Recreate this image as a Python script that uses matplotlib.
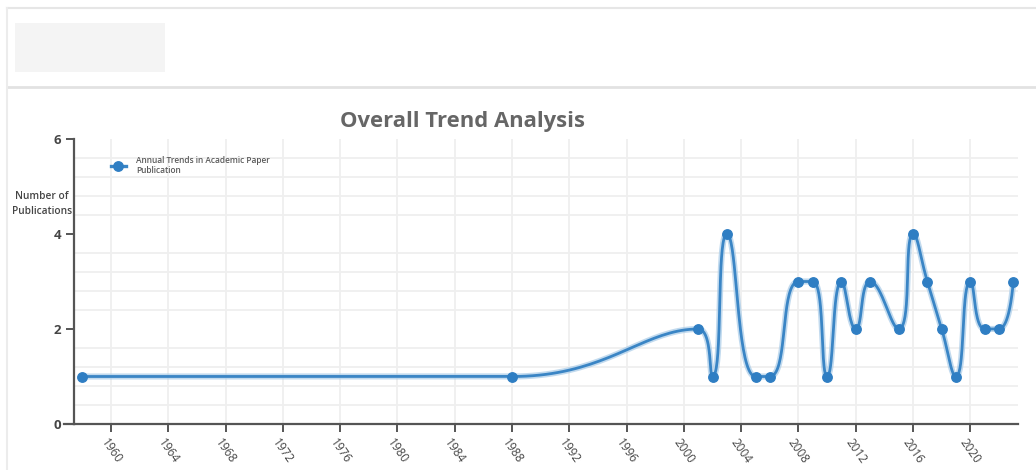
import numpy as np
import matplotlib
matplotlib.use("Agg")
import matplotlib.pyplot as plt
from matplotlib.patches import Rectangle
from matplotlib.lines import Line2D

# ---- data ----
years = [1958, 1988, 2001, 2002, 2003, 2005, 2006, 2008, 2009, 2010, 2011,
         2012, 2013, 2015, 2016, 2017, 2018, 2019, 2020, 2021, 2022, 2023]
counts = [1, 1, 2, 1, 4, 1, 1, 3, 3, 1, 3,
          2, 3, 2, 4, 3, 2, 1, 3, 2, 2, 3]
tick_years = list(range(1960, 2021, 4))
y_ticks = [0, 2, 4, 6]

title_text = "Overall Trend Analysis"
series_name = "Annual Trends in Academic Paper\nPublication"
y_title = "Number of\nPublications"

LINE_BLUE = "#3a85c5"
DOT_BLUE = "#2f7ec3"
GLOW_BLUE = "#a8cbe8"
GRID = "#efefef"
AXIS = "#555555"
TEXT = "#454545"

W, H = 1036, 470
fig = plt.figure(figsize=(W / 100, H / 100), dpi=100)
fig.patch.set_facecolor("white")


def fx(px):
    return px / W


def fy(py):
    return 1 - py / H


# ---- card frame / header ----
fig.add_artist(Line2D([fx(7), 1], [fy(8), fy(8)], color="#e6e6e6", lw=1.5))
fig.add_artist(Line2D([fx(7), 1], [fy(87), fy(87)], color="#e2e2e2", lw=2))
fig.add_artist(Line2D([fx(7), fx(7)], [fy(8), 0], color="#ececec", lw=1.5))
fig.add_artist(Rectangle((fx(15), fy(72)), fx(165) - fx(15), fy(23) - fy(72),
                         transform=fig.transFigure, facecolor="#f4f4f4",
                         edgecolor="none"))

# ---- axes ----
ax = fig.add_axes([fx(74), fy(424), fx(1018) - fx(74), fy(139) - fy(424)])
ax.set_xlim(1957.41, 2023.33)
ax.set_ylim(0, 6)

ax.set_xticks(tick_years)
ax.set_xticklabels([str(y) for y in tick_years], rotation=-55, ha="center",
                   va="top", fontsize=8.5, color=TEXT, family="Open Sans")
ax.set_yticks(y_ticks)
ax.set_yticklabels([str(v) for v in y_ticks], fontsize=9.5, fontweight="bold",
                   color=TEXT, family="Open Sans")
ax.set_yticks(np.arange(0, 6.01, 0.4), minor=True)
ax.tick_params(axis="y", which="minor", length=0)
ax.tick_params(axis="both", which="major", length=6, width=1.4, color=AXIS,
               direction="out")
ax.tick_params(axis="x", pad=3)
ax.tick_params(axis="y", pad=3)

ax.grid(True, axis="x", which="major", color=GRID, lw=1.3)
ax.grid(True, axis="y", which="minor", color=GRID, lw=1.3)
ax.set_axisbelow(True)

for s in ("top", "right"):
    ax.spines[s].set_visible(False)
for s in ("left", "bottom"):
    ax.spines[s].set_color(AXIS)
    ax.spines[s].set_linewidth(1.6)
ax.add_line(Line2D([-10 / 944, 0], [0, 0], transform=ax.transAxes,
                   color=AXIS, lw=1.6, clip_on=False))


# ---- smoothed line (cubic bezier through points, extremes clamped) ----
def smooth_curve(px, py, smooth=0.5, steps=40):
    n = len(px)
    out_x, out_y = [px[0]], [py[0]]
    c0x, c0y = px[0], py[0]
    for i in range(1, n):
        x, y = px[i], py[i]
        x0, y0 = px[i - 1], py[i - 1]
        if i == n - 1:
            c1x, c1y = x, y
            ncx, ncy = x, y
        else:
            nx, ny = px[i + 1], py[i + 1]
            vx, vy = nx - x0, ny - y0
            lp = np.hypot(x - x0, y - y0)
            ln = np.hypot(nx - x, ny - y)
            r = ln / (ln + lp)
            ncx = x + vx * smooth * r
            ncy = y + vy * smooth * r
            ncx = max(min(ncx, max(nx, x)), min(nx, x))
            ncy = max(min(ncy, max(ny, y)), min(ny, y))
            vx, vy = ncx - x, ncy - y
            c1x = x - vx * lp / ln
            c1y = y - vy * lp / ln
            c1x = max(min(c1x, max(x0, x)), min(x0, x))
            c1y = max(min(c1y, max(y0, y)), min(y0, y))
            vx, vy = x - c1x, y - c1y
            ncx = x + vx * ln / lp
            ncy = y + vy * ln / lp
        t = np.linspace(0, 1, steps)[1:]
        a, b, c, d = (1 - t) ** 3, 3 * (1 - t) ** 2 * t, 3 * (1 - t) * t ** 2, t ** 3
        out_x.extend(a * x0 + b * c0x + c * c1x + d * x)
        out_y.extend(a * y0 + b * c0y + c * c1y + d * y)
        c0x, c0y = ncx, ncy
    return np.array(out_x), np.array(out_y)


pix = ax.transData.transform(np.column_stack([years, counts]))
sx, sy = smooth_curve(pix[:, 0], pix[:, 1])
curve = ax.transData.inverted().transform(np.column_stack([sx, sy]))

ax.plot(curve[:, 0], curve[:, 1], color=GLOW_BLUE, lw=4.4, alpha=0.7,
        solid_capstyle="round", zorder=3)
ax.plot(curve[:, 0], curve[:, 1], color=LINE_BLUE, lw=2.0,
        solid_capstyle="round", zorder=4)
ax.plot(years, counts, linestyle="none", marker="o", markersize=6.8,
        color=DOT_BLUE, markeredgecolor=DOT_BLUE, zorder=5, clip_on=False)

# ---- legend ----
handle = Line2D([], [], color=LINE_BLUE, lw=2.4, marker="o", markersize=6.8,
                markerfacecolor=DOT_BLUE, markeredgecolor=DOT_BLUE)
leg = ax.legend([handle], [series_name], loc="upper left",
                bbox_to_anchor=(fx(111), fy(156)), bbox_transform=fig.transFigure,
                frameon=False, handlelength=1.75, handletextpad=1.3,
                borderpad=0, borderaxespad=0,
                prop={"family": "Open Sans", "size": 6.0, "weight": "semibold"})
for t in leg.get_texts():
    t.set_color("#5a5a5a")

# ---- titles ----
fig.text(fx(462), fy(121), title_text, ha="center", va="center",
         fontsize=15.8, fontweight="bold", color="#666666", family="Open Sans")
fig.text(fx(42), fy(204), y_title, ha="center", va="center", fontsize=7.3,
         fontweight="semibold", color=TEXT, family="Open Sans",
         linespacing=1.4)

fig.savefig("out.png", dpi=100)
